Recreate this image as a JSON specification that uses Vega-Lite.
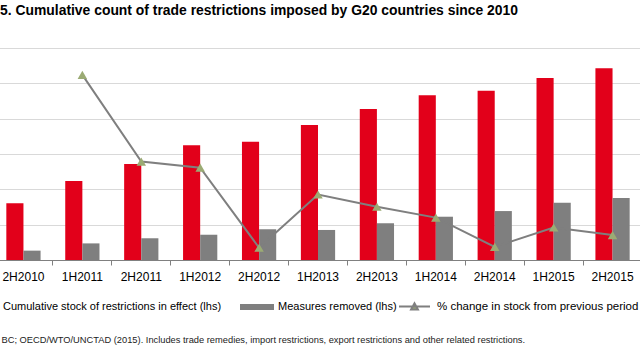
{
  "$schema": "https://vega.github.io/schema/vega-lite/v6.json",
  "width": 640,
  "height": 212,
  "autosize": {"type": "none"},
  "padding": {"left": 0, "top": 48, "right": 0, "bottom": 100},
  "background": "white",
  "config": {"view": {"stroke": null}, "font": "Liberation Sans"},
  "title": {
    "text": "5. Cumulative count of trade restrictions imposed by G20 countries since 2010",
    "anchor": "start",
    "frame": "group",
    "font": "Liberation Sans",
    "fontSize": 13.9,
    "fontWeight": "bold",
    "color": "#000000",
    "baseline": "alphabetic",
    "offset": 19
  },
  "datasets": {
    "bars": [
      {"period": "2H2010", "series": "Cumulative stock of restrictions in effect (lhs)", "value": 321},
      {"period": "2H2010", "series": "Measures removed (lhs)", "value": 53},
      {"period": "1H2011", "series": "Cumulative stock of restrictions in effect (lhs)", "value": 447},
      {"period": "1H2011", "series": "Measures removed (lhs)", "value": 94},
      {"period": "2H2011", "series": "Cumulative stock of restrictions in effect (lhs)", "value": 543},
      {"period": "2H2011", "series": "Measures removed (lhs)", "value": 123},
      {"period": "1H2012", "series": "Cumulative stock of restrictions in effect (lhs)", "value": 649},
      {"period": "1H2012", "series": "Measures removed (lhs)", "value": 143},
      {"period": "2H2012", "series": "Cumulative stock of restrictions in effect (lhs)", "value": 670},
      {"period": "2H2012", "series": "Measures removed (lhs)", "value": 174},
      {"period": "1H2013", "series": "Cumulative stock of restrictions in effect (lhs)", "value": 764},
      {"period": "1H2013", "series": "Measures removed (lhs)", "value": 170},
      {"period": "2H2013", "series": "Cumulative stock of restrictions in effect (lhs)", "value": 855},
      {"period": "2H2013", "series": "Measures removed (lhs)", "value": 208},
      {"period": "1H2014", "series": "Cumulative stock of restrictions in effect (lhs)", "value": 932},
      {"period": "1H2014", "series": "Measures removed (lhs)", "value": 245},
      {"period": "2H2014", "series": "Cumulative stock of restrictions in effect (lhs)", "value": 958},
      {"period": "2H2014", "series": "Measures removed (lhs)", "value": 277},
      {"period": "1H2015", "series": "Cumulative stock of restrictions in effect (lhs)", "value": 1030},
      {"period": "1H2015", "series": "Measures removed (lhs)", "value": 324},
      {"period": "2H2015", "series": "Cumulative stock of restrictions in effect (lhs)", "value": 1085},
      {"period": "2H2015", "series": "Measures removed (lhs)", "value": 351}
    ],
    "pct": [
      {"period": "1H2011", "series": "% change in stock from previous period", "pct": 39.3},
      {"period": "2H2011", "series": "% change in stock from previous period", "pct": 20.9},
      {"period": "1H2012", "series": "% change in stock from previous period", "pct": 19.6},
      {"period": "2H2012", "series": "% change in stock from previous period", "pct": 2.6},
      {"period": "1H2013", "series": "% change in stock from previous period", "pct": 13.9},
      {"period": "2H2013", "series": "% change in stock from previous period", "pct": 11.3},
      {"period": "1H2014", "series": "% change in stock from previous period", "pct": 9.0},
      {"period": "2H2014", "series": "% change in stock from previous period", "pct": 2.8},
      {"period": "1H2015", "series": "% change in stock from previous period", "pct": 6.9},
      {"period": "2H2015", "series": "% change in stock from previous period", "pct": 5.3}
    ]
  },
  "layer": [
    {
      "data": {"name": "bars"},
      "mark": {"type": "bar"},
      "encoding": {
        "x": {
          "field": "period",
          "type": "nominal",
          "sort": null,
          "scale": {
            "domain": ["2H2010", "1H2011", "2H2011", "1H2012", "2H2012", "1H2013", "2H2013", "1H2014", "2H2014", "1H2015", "2H2015"],
            "range": [-6, 642],
            "paddingInner": 0,
            "paddingOuter": 0
          },
          "axis": {
            "title": "BC; OECD/WTO/UNCTAD (2015). Includes trade remedies, import restrictions, export restrictions and other related restrictions.",
            "titleFont": "Liberation Sans",
            "titleFontSize": 9.3,
            "titleFontWeight": "normal",
            "titleColor": "#222222",
            "titleAnchor": "start",
            "titleAlign": "left",
            "titleBaseline": "alphabetic",
            "titleX": 1,
            "titleY": 82,
            "labelAngle": 0,
            "labelFont": "Liberation Sans",
            "labelFontSize": 12,
            "labelColor": "#000000",
            "labelPadding": 6,
            "bandPosition": 0,
            "ticks": true,
            "tickSize": 5,
            "tickColor": "#808080",
            "domainColor": "#808080",
            "grid": false
          }
        },
        "xOffset": {
          "field": "series",
          "sort": null,
          "scale": {"paddingInner": 0, "paddingOuter": 0.72}
        },
        "y": {
          "field": "value",
          "type": "quantitative",
          "scale": {"domain": [0, 1200]},
          "axis": {
            "values": [0, 200, 400, 600, 800, 1000, 1200],
            "labels": false,
            "ticks": false,
            "domain": false,
            "grid": true,
            "gridColor": "#d9d9d9",
            "title": null
          }
        },
        "color": {
          "field": "series",
          "type": "nominal",
          "sort": null,
          "scale": {"range": ["#e2001a", "#7f7f7f"]},
          "legend": {
            "orient": "none",
            "legendX": -35,
            "legendY": 242,
            "direction": "horizontal",
            "title": null,
            "symbolType": "M-1,-0.17H1V0.17H-1Z",
            "symbolSize": 1156,
            "symbolStrokeWidth": 0,
            "labelFont": "Liberation Sans",
            "labelFontSize": 11,
            "labelColor": "#000000",
            "labelOffset": 4,
            "columnPadding": 18,
            "labelLimit": 400
          }
        }
      }
    },
    {
      "data": {"name": "pct"},
      "mark": {"type": "line", "strokeWidth": 2},
      "encoding": {
        "x": {"field": "period", "type": "nominal", "sort": null},
        "y": {"field": "pct", "type": "quantitative", "scale": {"domain": [0, 45]}, "axis": null},
        "stroke": {
          "field": "series",
          "type": "nominal",
          "scale": {"range": ["#7f7f7f"]},
          "legend": {
            "orient": "none",
            "legendX": 398,
            "legendY": 242,
            "title": null,
            "symbolType": "M-1,0H1M-0.22,0.2L0,-0.2L0.22,0.2Z",
            "symbolSize": 961,
            "symbolStrokeWidth": 2,
            "symbolFillColor": "#9bab74",
            "labelFont": "Liberation Sans",
            "labelFontSize": 11.5,
            "labelColor": "#000000",
            "labelOffset": 6,
            "labelLimit": 400
          }
        }
      }
    },
    {
      "data": {"name": "pct"},
      "mark": {"type": "point", "shape": "triangle-up", "filled": true, "size": 90, "color": "#9bab74", "opacity": 1},
      "encoding": {
        "x": {"field": "period", "type": "nominal", "sort": null},
        "y": {"field": "pct", "type": "quantitative", "scale": {"domain": [0, 45]}, "axis": null}
      }
    }
  ],
  "resolve": {"scale": {"y": "independent"}}
}
